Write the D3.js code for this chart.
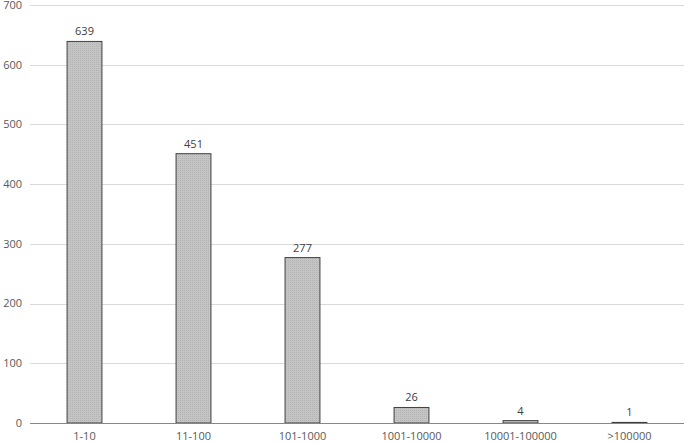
<!DOCTYPE html>
<html><head><meta charset="utf-8">
<script src="https://cdn.jsdelivr.net/npm/d3@7"></script>
<style>body{margin:0;background:#fff;} text{font-family:"Open Sans","Noto Sans",sans-serif;}</style>
</head><body><svg id="c" width="685" height="443"></svg>
<script>
const categories = ["1-10","11-100","101-1000","1001-10000","10001-100000",">100000"];
const values = [639,451,277,26,4,1];
const yTicks = [0,100,200,300,400,500,600,700];

const svg = d3.select("#c");
const m = {left:30, right:1, top:5, bottom:20};
const W = 685, H = 443;
const x = d3.scaleBand().domain(categories).range([m.left, W - m.right]).paddingInner(0.68).paddingOuter(0.34);
const y = d3.scaleLinear().domain([0,700]).range([423, 5]);

const defs = svg.append("defs");
const pat = defs.append("pattern").attr("id","dots").attr("width",2).attr("height",2).attr("patternUnits","userSpaceOnUse");
pat.append("rect").attr("width",2).attr("height",2).attr("fill","#c4c4c4");
pat.append("rect").attr("width",1).attr("height",1).attr("fill","#b4b4b4");

// gridlines
svg.append("g").selectAll("line").data(yTicks.slice(1)).join("line")
  .attr("x1", m.left).attr("x2", W - m.right)
  .attr("y1", d => Math.round(y(d)) + 0.5).attr("y2", d => Math.round(y(d)) + 0.5)
  .attr("stroke","#d9d9d9").attr("stroke-width",1);

// y tick labels
svg.append("g").selectAll("text").data(yTicks).join("text")
  .attr("x", 22).attr("y", d => y(d)).attr("dy","0.35em")
  .attr("text-anchor","end").attr("font-size",11).attr("fill","#595959")
  .text(d => d);

// bars
svg.append("g").selectAll("rect").data(values).join("rect")
  .attr("x", (d,i) => x(categories[i]))
  .attr("y", d => y(d))
  .attr("width", x.bandwidth())
  .attr("height", d => y(0) - y(d))
  .attr("fill","url(#dots)").attr("stroke","#404040").attr("stroke-width",1);

// axis line
svg.append("line").attr("x1", m.left).attr("x2", W - m.right)
  .attr("y1", Math.round(y(0)) + 0.5).attr("y2", Math.round(y(0)) + 0.5)
  .attr("stroke","#868686").attr("stroke-width",1);

// value labels
svg.append("g").selectAll("text").data(values).join("text")
  .attr("x", (d,i) => x(categories[i]) + x.bandwidth()/2)
  .attr("y", d => y(d) - 6)
  .attr("text-anchor","middle").attr("font-size",11).attr("fill","#404040")
  .text(d => d);

// category labels
svg.append("g").selectAll("text").data(categories).join("text")
  .attr("x", d => x(d) + x.bandwidth()/2)
  .attr("y", 440)
  .attr("text-anchor","middle").attr("font-size",11).attr("fill","#595959")
  .text(d => d);
</script></body></html>
